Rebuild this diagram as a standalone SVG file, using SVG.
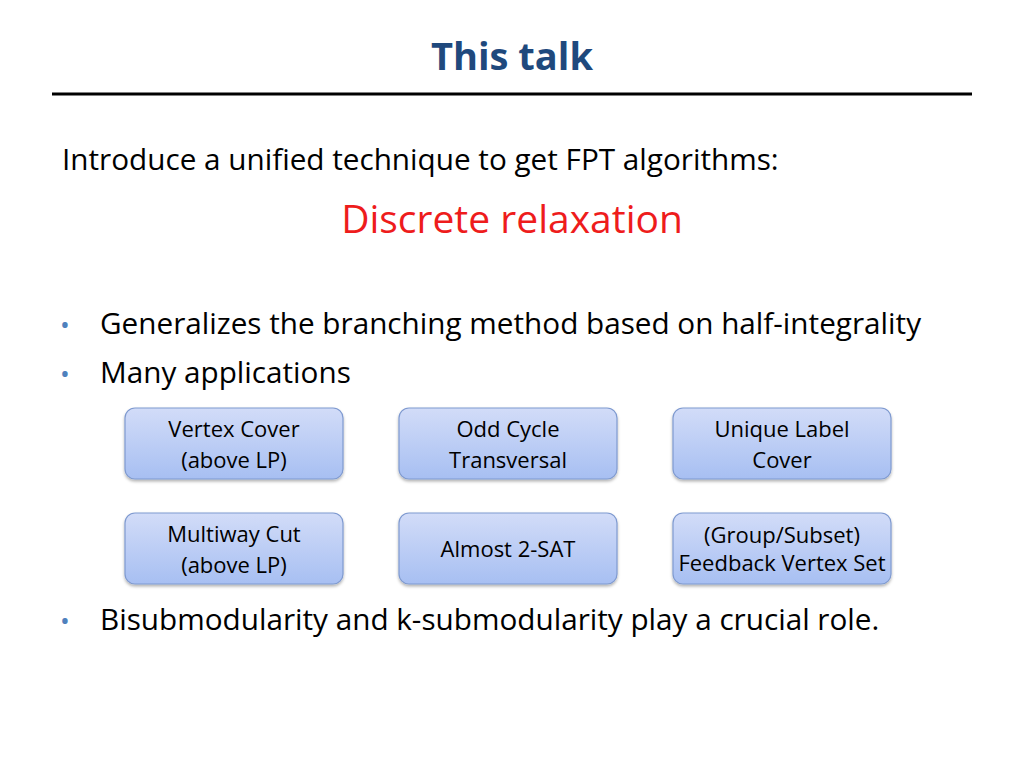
<svg xmlns="http://www.w3.org/2000/svg" width="1024" height="768" viewBox="0 0 1024 768">
<defs>
<linearGradient id="g" x1="0" y1="0" x2="0" y2="1"><stop offset="0" stop-color="#d2dcf8"/><stop offset="1" stop-color="#a7bff2"/></linearGradient>
<filter id="s" x="-10%" y="-10%" width="120%" height="130%"><feDropShadow dx="0" dy="2" stdDeviation="1.5" flood-color="#000" flood-opacity="0.3"/></filter>
</defs>
<style>
text{font-family:"Open Sans","Noto Sans",sans-serif;fill:#000}
.b{fill:url(#g);stroke:#7f9ad0;stroke-width:1.2;filter:url(#s)}
.n{font-size:22px;text-anchor:middle}
.m{font-size:29.7px}
.d{font-size:26px;fill:#4f81bd}
</style>
<rect width="1024" height="768" fill="#fff"/>
<text x="512" y="70" text-anchor="middle" font-size="38" font-weight="bold" style="fill:#1f497d">This talk</text>
<line x1="52" y1="94" x2="972" y2="94" stroke="#000" stroke-width="3"/>
<text class="m" x="62" y="170">Introduce a unified technique to get FPT algorithms:</text>
<text x="512" y="233" text-anchor="middle" font-size="39" style="fill:#ee1c1c">Discrete relaxation</text>
<text class="d" x="60" y="334">•</text>
<text class="m" x="100" y="334">Generalizes the branching method based on half-integrality</text>
<text class="d" x="60" y="383">•</text>
<text class="m" x="100" y="383">Many applications</text>
<g id="n1"><rect class="b" x="125" y="408" width="218" height="71" rx="10"/><text class="n" x="234" y="437">Vertex Cover</text><text class="n" x="234" y="468">(above LP)</text></g>
<g id="n2"><rect class="b" x="399" y="408" width="218" height="71" rx="10"/><text class="n" x="508" y="437">Odd Cycle</text><text class="n" x="508" y="468">Transversal</text></g>
<g id="n3"><rect class="b" x="673" y="408" width="218" height="71" rx="10"/><text class="n" x="782" y="437">Unique Label</text><text class="n" x="782" y="468">Cover</text></g>
<g id="n4"><rect class="b" x="125" y="513" width="218" height="71" rx="10"/><text class="n" x="234" y="542">Multiway Cut</text><text class="n" x="234" y="573">(above LP)</text></g>
<g id="n5"><rect class="b" x="399" y="513" width="218" height="71" rx="10"/><text class="n" x="508" y="557">Almost 2-SAT</text></g>
<g id="n6"><rect class="b" x="673" y="513" width="218" height="71" rx="10"/><text class="n" x="782" y="543" font-size="18">(Group/Subset)</text><text class="n" x="782" y="571" font-size="18">Feedback Vertex Set</text></g>
<g id="connectors"/>
<text class="d" x="60" y="630">•</text>
<text class="m" x="100" y="630">Bisubmodularity and k-submodularity play a crucial role.</text>
</svg>
